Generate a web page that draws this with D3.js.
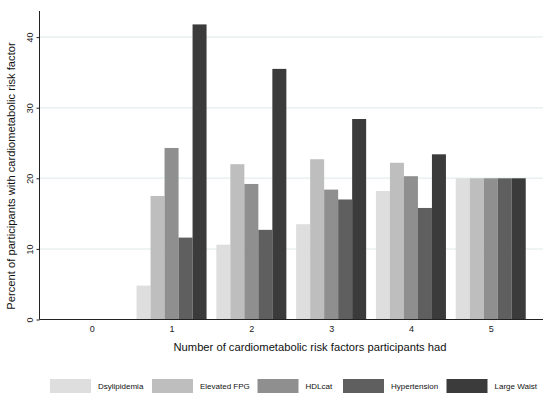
<!DOCTYPE html>
<html>
<head>
<meta charset="utf-8">
<script src="https://cdn.jsdelivr.net/npm/d3@7"></script>
<style>
  body { margin: 0; background: #fff; }
  svg { font-family: "Liberation Sans", Arial, sans-serif; }
</style>
</head>
<body>
<div id="chart"></div>
<script>
// number of risk factors on the x axis
const categories = ["0", "1", "2", "3", "4", "5"];
const seriesNames = ["Dsylipidemia", "Elevated FPG", "HDLcat", "Hypertension", "Large Waist"];
const seriesColors = ["#dedede", "#bebebe", "#8f8f8f", "#5f5f5f", "#3b3b3b"];

// percent per series, one value per category
const dyslipidemia = [0, 4.8, 10.6, 13.5, 18.2, 20];
const elevatedFpg = [0, 17.5, 22.0, 22.7, 22.2, 20];
const hdlCat = [0, 24.3, 19.2, 18.4, 20.3, 20];
const hypertension = [0, 11.6, 12.7, 17.0, 15.8, 20];
const largeWaist = [0, 41.8, 35.5, 28.4, 23.4, 20];

const yTicks = [0, 10, 20, 30, 40];

const seriesValues = [dyslipidemia, elevatedFpg, hdlCat, hypertension, largeWaist];

const width = 550, height = 399;
const plot = { left: 39.5, right: 543, top: 11, bottom: 319.5 };

const svg = d3.select("#chart")
  .append("svg")
  .attr("width", width)
  .attr("height", height);

const x = d3.scalePoint()
  .domain(categories)
  .range([plot.left, plot.right])
  .padding(0.655);

const xInner = d3.scaleBand()
  .domain(seriesNames)
  .range([-35, 35])
  .padding(0);

const y = d3.scaleLinear()
  .domain([0, 43.7])
  .range([plot.bottom, plot.top]);

const color = d3.scaleOrdinal().domain(seriesNames).range(seriesColors);

// grid lines
svg.append("g")
  .selectAll("line")
  .data(yTicks.filter(d => d > 0))
  .join("line")
  .attr("x1", plot.left)
  .attr("x2", plot.right)
  .attr("y1", d => y(d))
  .attr("y2", d => y(d))
  .attr("stroke", "#e8f0f1")
  .attr("stroke-width", 1.5);

// bars
const rows = [];
categories.forEach((c, i) => {
  seriesNames.forEach((s, j) => rows.push({ cat: c, series: s, value: seriesValues[j][i] }));
});

svg.append("g")
  .selectAll("rect")
  .data(rows.filter(d => d.value > 0))
  .join("rect")
  .attr("x", d => x(d.cat) + xInner(d.series))
  .attr("y", d => y(d.value))
  .attr("width", xInner.bandwidth())
  .attr("height", d => y(0) - y(d.value))
  .attr("fill", d => color(d.series));

// y axis
const yAxis = svg.append("g")
  .attr("transform", `translate(${plot.left},0)`)
  .call(d3.axisLeft(y).tickValues(yTicks).tickSize(3).tickSizeOuter(0));
yAxis.select(".domain").attr("d", `M0,${plot.bottom}V${plot.top}`).attr("stroke", "#222");
yAxis.selectAll(".tick line").attr("stroke", "#222");
yAxis.selectAll(".tick text")
  .attr("font-size", 9)
  .attr("fill", "#222")
  .attr("x", null)
  .attr("dy", null)
  .attr("text-anchor", "middle")
  .attr("transform", "translate(-9,0) rotate(-90)")
  .attr("dominant-baseline", "middle");

// x axis
const xAxis = svg.append("g")
  .attr("transform", `translate(0,${plot.bottom})`)
  .call(d3.axisBottom(x).tickSize(0).tickSizeOuter(0));
xAxis.select(".domain").attr("d", `M${plot.left},0H${plot.right}`).attr("stroke", "#222");
xAxis.selectAll(".tick text")
  .attr("font-size", 9)
  .attr("fill", "#222")
  .attr("dy", null)
  .attr("y", 12);

// axis titles
svg.append("text")
  .attr("x", 310)
  .attr("y", 351)
  .attr("text-anchor", "middle")
  .attr("font-size", 11.2)
  .attr("fill", "#111")
  .text("Number of cardiometabolic risk factors participants had");

svg.append("text")
  .attr("transform", `translate(15,176) rotate(-90)`)
  .attr("text-anchor", "middle")
  .attr("font-size", 11.2)
  .attr("fill", "#111")
  .text("Percent of participants with cardiometabolic risk factor");

// legend
const legendX = [50, 152, 257.5, 343, 446.5];
const legend = svg.append("g")
  .selectAll("g")
  .data(seriesNames)
  .join("g")
  .attr("transform", (d, i) => `translate(${legendX[i]},379)`);

legend.append("rect")
  .attr("width", 41)
  .attr("height", 14)
  .attr("fill", d => color(d));

legend.append("text")
  .attr("x", 48)
  .attr("y", 7)
  .attr("dy", "0.35em")
  .attr("font-size", 8)
  .attr("fill", "#111")
  .text(d => d);
</script>
</body>
</html>
